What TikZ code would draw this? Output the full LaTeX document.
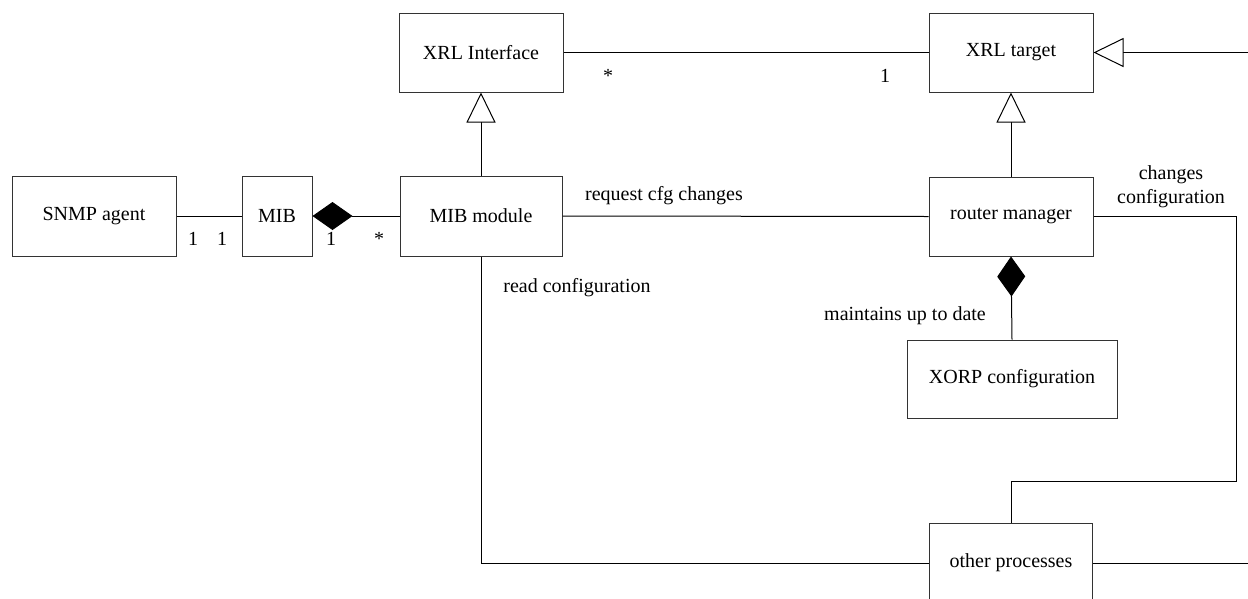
\documentclass[tikz,border=0pt]{standalone}
\usepackage{fontspec}
\setmainfont{Liberation Serif}
\usetikzlibrary{arrows.meta}
\tikzset{
  cls/.style={draw=black!80, line width=1pt, fill=white, inner sep=0pt, font=\fontsize{20}{24}\selectfont},
  conn/.style={draw=black, line width=1pt},
  lbl/.style={font=\fontsize{20}{24}\selectfont, inner sep=0pt},
  mult/.style={font=\fontsize{20}{24}\selectfont, inner sep=0pt, anchor=base},
  comp/.style={{Diamond[length=40pt,width=28pt,fill=black]}-},
  gen/.style={-{Triangle[open,length=30pt,width=29pt,fill=white]}}
}
\begin{document}
\begin{tikzpicture}[x=1pt,y=-1pt]
\clip (0,0) rectangle (1248,598);
\fill[white] (0,0) rectangle (1248,598);
% classes
\node[cls, minimum width=164pt, minimum height=80pt] (snmp) at (94,216) {SNMP agent};
\node[cls, minimum width=70pt, minimum height=80pt] (mib) at (277,216) {MIB};
\node[cls, minimum width=162pt, minimum height=80pt] (mibmod) at (481,216) {MIB module};
\node[cls, minimum width=164pt, minimum height=79pt] (xrli) at (481,52.5) {XRL Interface};
\node[cls, minimum width=164pt, minimum height=79pt] (xrlt) at (1011,52.5) {XRL target};
\node[cls, minimum width=164pt, minimum height=79pt] (rm) at (1011,216.5) {router manager};
\node[cls, minimum width=210pt, minimum height=78pt] (xorp) at (1012,379) {XORP configuration};
\node[cls, minimum width=163pt, minimum height=80pt] (other) at (1011,563) {other processes};
% free ends
\coordinate (rEdgeTop) at (1248,52.5);
\coordinate (rEdgeBot) at (1248,563);
\coordinate (c1) at (1236,216.5);
\coordinate (c2) at (1236,481);
\coordinate (c3) at (1011,481);
\coordinate (c4) at (481,563);
% connectors
\draw[conn] (snmp.east) -- (mib.west);
\draw[conn, comp] (mib.east) -- (mibmod.west);
\draw[conn, gen] (mibmod.north) -- (xrli.south);
\draw[conn] (xrli.east) -- (xrlt.west);
\draw[conn, gen] (rEdgeTop) -- (xrlt.east);
\draw[conn, gen] (rm.north) -- (xrlt.south);
\draw[conn] (mibmod.east) -- (rm.west);
\draw[conn, comp] (rm.south) -- (xorp.north);
\draw[conn] (rm.east) -- (c1) -- (c2) -- (c3) -- (other.north);
\draw[conn] (mibmod.south) -- (c4) -- (other.west);
\draw[conn] (other.east) -- (rEdgeBot);
% multiplicities
\node[mult] (m1) at (193,245) {1};
\node[mult] (m2) at (222,245) {1};
\node[mult] (m3) at (331,245) {1};
\node[mult] (m4) at (379,245) {*};
\node[mult] (m5) at (608,82) {*};
\node[mult] (m6) at (885,82) {1};
% labels
\node[lbl] (l1) at (664,196) {request cfg changes};
\node[lbl] (l2) at (577,288) {read configuration};
\node[lbl] (l3) at (905,316) {maintains up to date};
\node[lbl, align=center] (l4) at (1171,187) {changes\\configuration};
\end{tikzpicture}
\end{document}
